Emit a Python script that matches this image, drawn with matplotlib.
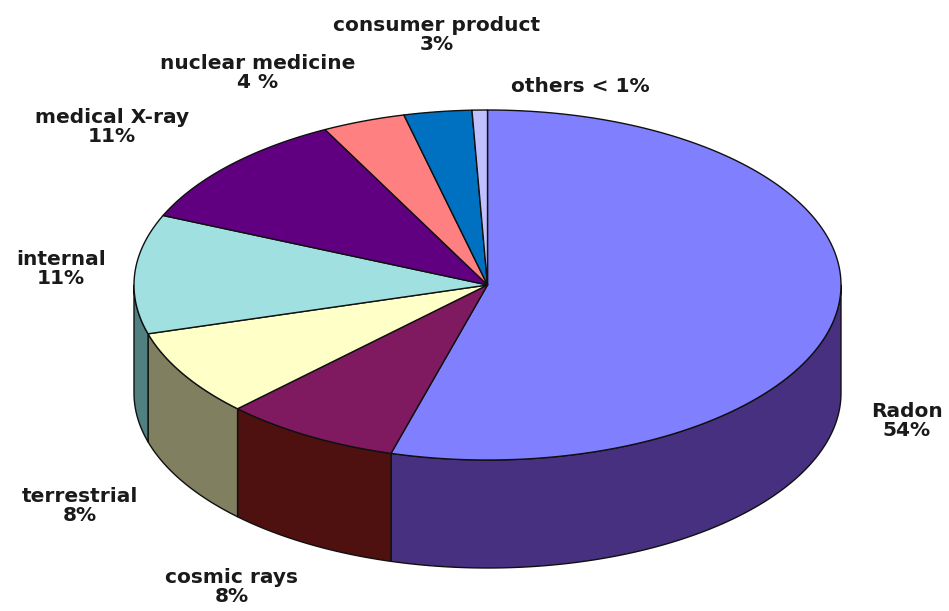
import numpy as np
import matplotlib
matplotlib.use('Agg')
import matplotlib.pyplot as plt

# clockwise from 12 o'clock, shares
names = ['Radon', 'cosmic rays', 'terrestrial', 'internal', 'medical X-ray',
         'nuclear medicine', 'consumer product', 'others']
shares = [54.4, 8.1, 8.0, 11.0, 10.9, 3.8, 3.1, 0.7]
top_colors = ['#8080FF', '#7F1A60', '#FFFFC8', '#A0E0E0', '#600080',
              '#FF8080', '#0070C0', '#C0C0FF']
side_colors = ['#483080', '#4F1010', '#808060', '#508080', '#300040',
               '#804040', '#003860', '#606080']
label_text = ['Radon\n54%', 'cosmic rays\n8%', 'terrestrial\n8%', 'internal\n11%',
              'medical X-ray\n11%', 'nuclear medicine\n4 %', 'consumer product\n3%',
              'others < 1%']

cx, cy = 487.5, 285
rx, ry = 353.5, 175
depth = 108


def rim(t):
    return cx + rx*np.sin(t), cy - ry*np.cos(t)


fig = plt.figure(figsize=(9.49, 6.11), dpi=100)
ax = fig.add_axes([0, 0, 1, 1])
ax.set_xlim(0, 949)
ax.set_ylim(611, 0)
ax.axis('off')

edges = np.radians(np.cumsum([0] + shares)*360.0/sum(shares))

# side walls, only the front half of the rim shows
for i in range(len(shares)):
    a = max(edges[i], np.pi/2)
    b = min(edges[i+1], 3*np.pi/2)
    if b <= a:
        continue
    t = np.linspace(a, b, 100)
    x, y = rim(t)
    xs = np.r_[x, x[::-1]]
    ys = np.r_[y, y[::-1] + depth]
    ax.fill(xs, ys, facecolor=side_colors[i], edgecolor='#101010', linewidth=1.0,
            joinstyle='round')

# top face
for i in range(len(shares)):
    t = np.linspace(edges[i], edges[i+1], 150)
    x, y = rim(t)
    ax.fill(np.r_[cx, x], np.r_[cy, y], facecolor=top_colors[i], edgecolor='#101010',
            linewidth=1.0, joinstyle='round')

# label centres in pixels
label_pos = [(907, 421), (232, 587), (80, 506), (61, 269), (112, 127),
             (258, 73), (437, 35), (580, 86)]
for s, (lx, ly) in zip(label_text, label_pos):
    ax.text(lx, ly, s, ha='center', va='center', fontsize=14.5, fontweight='bold',
            family='DejaVu Sans', color='#1a1a1a', linespacing=1.05)

fig.savefig('out.png', dpi=100)
